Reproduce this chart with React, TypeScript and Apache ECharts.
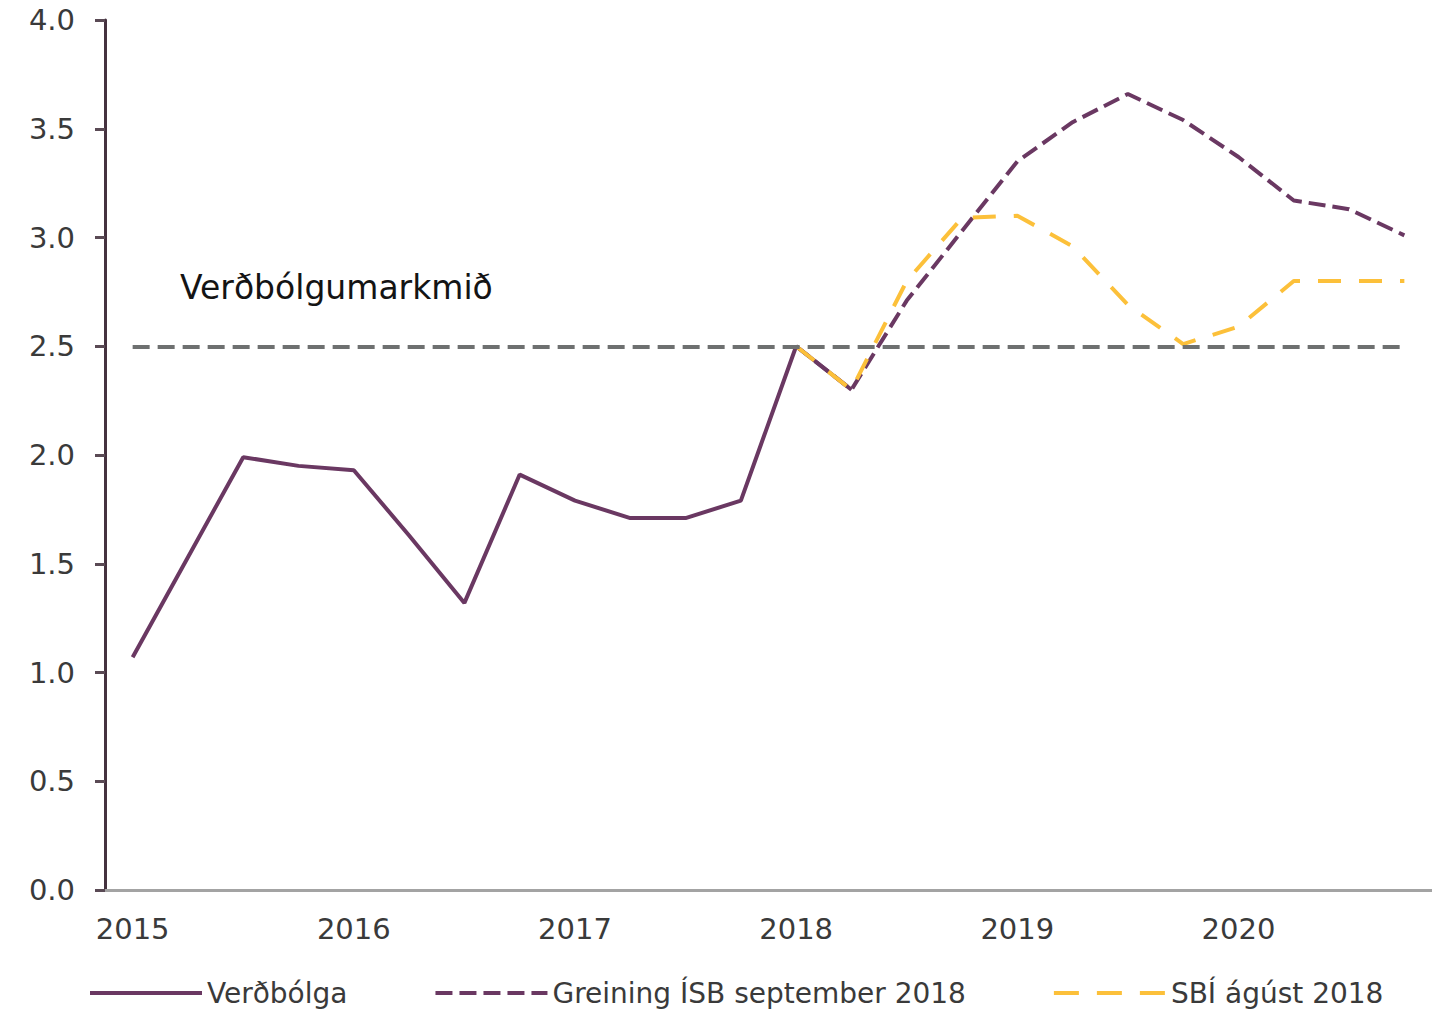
import React, { useEffect, useRef } from "react";
import * as echarts from "echarts";

const QUARTERS = [
  "2015K1", "2015K2", "2015K3", "2015K4",
  "2016K1", "2016K2", "2016K3", "2016K4",
  "2017K1", "2017K2", "2017K3", "2017K4",
  "2018K1", "2018K2", "2018K3", "2018K4",
  "2019K1", "2019K2", "2019K3", "2019K4",
  "2020K1", "2020K2", "2020K3", "2020K4",
];

const INFLATION = [
  1.07, 1.53, 1.99, 1.95, 1.93, 1.63, 1.32, 1.91, 1.79, 1.71, 1.71, 1.79,
  2.5, 2.3, null, null, null, null, null, null, null, null, null, null,
];

const ISB_FORECAST = [
  null, null, null, null, null, null, null, null, null, null, null, null,
  2.5, 2.3, 2.71, 3.03, 3.35, 3.53, 3.66, 3.54, 3.37, 3.17, 3.13, 3.01,
];

const SBI_FORECAST = [
  null, null, null, null, null, null, null, null, null, null, null, null,
  2.5, 2.3, 2.8, 3.09, 3.1, 2.96, 2.69, 2.51, 2.59, 2.8, 2.8, 2.8,
];

const TARGET = 2.5;
const TARGET_LABEL = "Verðbólgumarkmið";
const Y_TICKS = [0, 0.5, 1, 1.5, 2, 2.5, 3, 3.5, 4];

const NAMES = ["Verðbólga", "Greining ÍSB september 2018", "SBÍ ágúst 2018"];

const PURPLE = "#6a3862";
const YELLOW = "#fcc03a";
const GRAY = "#6e7070";
const FONT = "DejaVu Sans";

export default function App() {
  const ref = useRef<HTMLDivElement>(null);

  useEffect(() => {
    if (!ref.current) return;
    const chart = echarts.init(ref.current, undefined, { renderer: "svg" });
    chart.setOption({
      animation: false,
      backgroundColor: "#ffffff",
      textStyle: { fontFamily: FONT },
      grid: { left: 105, top: 20, width: 1332, height: 870, containLabel: false },
      legend: {
        left: 88,
        top: 979,
        padding: 0,
        itemWidth: 112,
        itemHeight: 28,
        itemGap: 86,
        textStyle: { fontFamily: FONT, fontSize: 28, color: "#3a3a3a" },
        data: [
          { name: NAMES[0], lineStyle: { width: 4 }, itemStyle: { opacity: 0 } },
          { name: NAMES[1], lineStyle: { width: 4, type: [17, 7] }, itemStyle: { opacity: 0 } },
          { name: NAMES[2], lineStyle: { width: 4, type: [25, 18] }, itemStyle: { opacity: 0 } },
        ],
      },
      xAxis: {
        type: "category",
        data: QUARTERS,
        boundaryGap: true,
        axisLine: { lineStyle: { color: "#a3a3a3", width: 3 } },
        axisTick: { interval: 3, length: 9, lineStyle: { color: "#9a9a9a", width: 3 } },
        axisLabel: {
          interval: 3,
          margin: 24,
          fontSize: 29,
          fontFamily: FONT,
          color: "#3a3a3a",
          formatter: (v: string) => v.slice(0, 4),
        },
        splitLine: { show: false },
      },
      yAxis: {
        type: "value",
        min: Y_TICKS[0],
        max: Y_TICKS[Y_TICKS.length - 1],
        interval: 0.5,
        axisLine: { show: true, lineStyle: { color: "#45323f", width: 3 } },
        axisTick: { show: true, length: 10, lineStyle: { color: "#5a4a55", width: 3 } },
        axisLabel: {
          margin: 30,
          fontSize: 29,
          fontFamily: FONT,
          color: "#3a3a3a",
          formatter: (v: number) => v.toFixed(1),
        },
        splitLine: { show: false },
      },
      graphic: [
        {
          type: "text",
          x: 180,
          y: 287,
          style: {
            text: TARGET_LABEL,
            fontSize: 33,
            fontFamily: FONT,
            fill: "#141414",
            verticalAlign: "middle",
          },
        },
      ],
      series: [
        {
          name: TARGET_LABEL,
          type: "line",
          data: [],
          silent: true,
          markLine: {
            silent: true,
            symbol: "none",
            label: { show: false },
            lineStyle: { color: GRAY, width: 4, type: [17, 8] },
            data: [
              [
                { coord: [QUARTERS[0], TARGET] },
                { coord: [QUARTERS[QUARTERS.length - 1], TARGET] },
              ],
            ],
          },
        },
        {
          name: NAMES[0],
          type: "line",
          data: INFLATION,
          symbol: "none",
          color: PURPLE,
          lineStyle: { color: PURPLE, width: 4 },
        },
        {
          name: NAMES[1],
          type: "line",
          data: ISB_FORECAST,
          symbol: "none",
          color: PURPLE,
          lineStyle: { color: PURPLE, width: 4, type: [17, 7] },
        },
        {
          name: NAMES[2],
          type: "line",
          data: SBI_FORECAST,
          symbol: "none",
          color: YELLOW,
          lineStyle: { color: YELLOW, width: 4, type: [23, 18] },
        },
      ],
    });
    return () => chart.dispose();
  }, []);

  return (
    <div
      ref={ref}
      style={{ position: "absolute", left: 0, top: 0, width: 1432, height: 1013 }}
    />
  );
}
